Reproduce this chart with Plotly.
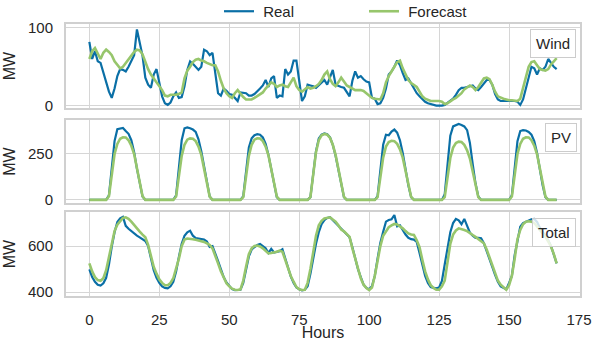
import plotly.graph_objects as go
from plotly.subplots import make_subplots

hours = list(range(168))

wind_real = [
    82, 60, 70, 57, 55, 42, 30, 18, 10, 22, 38, 47, 46, 44, 50, 58, 65, 98, 80, 64, 36, 27, 23, 40,
    47, 30, 12, 3, 1, 4, 12, 17, 10, 11, 25, 46, 57, 54, 50, 46, 50, 72, 70, 65, 68, 45, 16, 13,
    22, 19, 15, 14, 10, 6, 17, 16, 16, 13, 13, 15, 18, 22, 26, 33, 24, 35, 38, 10, 13, 12, 47, 40,
    44, 58, 58, 35, 6, 12, 27, 26, 25, 23, 26, 29, 33, 27, 36, 46, 27, 25, 24, 23, 18, 12, 32, 44,
    36, 38, 34, 31, 30, 10, 9, 2, 3, 10, 22, 40, 44, 50, 58, 52, 42, 33, 35, 28, 22, 16, 12, 8,
    5, 3, 2, 1, 0, 0, 0, 1, 4, 6, 9, 14, 20, 23, 23, 24, 25, 26, 22, 20, 24, 28, 33, 33,
    27, 15, 8, 6, 6, 6, 6, 6, 6, 5, 1, 8, 22, 35, 50, 48, 40, 48, 46, 50, 60, 55, 50, 47,
]
wind_fc = [
    60, 70, 74, 66, 60, 68, 72, 69, 65, 57, 52, 48, 50, 55, 60, 65, 69, 72, 71, 66, 56, 47, 40, 35,
    30, 26, 20, 13, 12, 14, 14, 14, 15, 17, 35, 45, 50, 56, 59, 60, 58, 57, 55, 53, 52, 52, 44, 32,
    22, 16, 12, 10, 16, 20, 15, 11, 8, 8, 8, 10, 12, 14, 17, 22, 26, 30, 28, 24, 26, 27, 25, 24,
    30, 36, 25, 20, 18, 21, 24, 22, 23, 25, 28, 33, 40, 44, 34, 28, 25, 30, 36, 31, 26, 24, 22, 20,
    20, 20, 19, 16, 13, 10, 9, 8, 8, 16, 30, 38, 45, 50, 56, 58, 48, 40, 33, 29, 27, 24, 18, 12,
    9, 7, 6, 6, 6, 6, 5, 2, 3, 6, 8, 10, 13, 16, 21, 24, 26, 24, 20, 24, 29, 35, 36, 34,
    27, 18, 12, 10, 9, 8, 7, 7, 6, 6, 9, 22, 38, 50, 56, 57, 52, 47, 46, 45, 47, 53, 57, 61,
]

pv_real = [
    0, 0, 0, 0, 0, 0, 0, 25, 190, 320, 385, 388, 392, 375, 360, 325, 260, 170, 85, 18, 0, 0, 0, 0,
    0, 0, 0, 0, 0, 0, 0, 25, 185, 325, 390, 395, 390, 383, 370, 330, 265, 175, 85, 18, 0, 0, 0, 0,
    0, 0, 0, 0, 0, 0, 0, 20, 150, 285, 335, 352, 358, 355, 340, 305, 245, 165, 80, 15, 0, 0, 0, 0,
    0, 0, 0, 0, 0, 0, 0, 15, 130, 265, 335, 355, 362, 358, 340, 300, 240, 160, 78, 15, 0, 0, 0, 0,
    0, 0, 0, 0, 0, 0, 0, 20, 160, 300, 355, 352, 372, 383, 366, 325, 255, 165, 80, 15, 0, 0, 0, 0,
    0, 0, 0, 0, 0, 0, 0, 30, 200, 350, 400, 405, 413, 408, 400, 380, 310, 195, 90, 18, 0, 0, 0, 0,
    0, 0, 0, 0, 0, 0, 0, 25, 180, 320, 375, 380, 378, 370, 355, 320, 255, 165, 80, 15, 0, 0, 0, 0,
]
pv_fc = [
    0, 0, 0, 0, 0, 0, 0, 20, 140, 250, 305, 333, 341, 340, 325, 295, 250, 170, 90, 20, 0, 0, 0, 0,
    0, 0, 0, 0, 0, 0, 0, 18, 130, 240, 300, 328, 335, 333, 320, 290, 245, 168, 88, 18, 0, 0, 0, 0,
    0, 0, 0, 0, 0, 0, 0, 15, 125, 240, 300, 328, 335, 334, 320, 290, 243, 165, 85, 18, 0, 0, 0, 0,
    0, 0, 0, 0, 0, 0, 0, 15, 130, 260, 325, 352, 359, 355, 338, 300, 245, 165, 82, 16, 0, 0, 0, 0,
    0, 0, 0, 0, 0, 0, 0, 15, 120, 230, 290, 315, 322, 320, 305, 275, 230, 155, 80, 16, 0, 0, 0, 0,
    0, 0, 0, 0, 0, 0, 0, 15, 118, 228, 285, 310, 317, 315, 300, 270, 225, 150, 78, 15, 0, 0, 0, 0,
    0, 0, 0, 0, 0, 0, 0, 18, 135, 250, 305, 333, 341, 340, 325, 295, 248, 168, 86, 18, 0, 0, 0, 0,
]

total_real = [
    499, 465, 445, 432, 428, 438, 462, 520, 597, 660, 705, 720, 727, 688, 675, 664, 655, 645, 638, 630, 622, 600, 540, 495,
    462, 440, 425, 418, 416, 425, 445, 490, 553, 610, 645, 660, 667, 645, 635, 632, 630, 628, 620, 596, 600, 570, 535, 500,
    465, 442, 425, 413, 409, 408, 410, 440, 500, 555, 585, 597, 605, 609, 600, 590, 570, 588, 572, 574, 578, 586, 545, 500,
    467, 440, 420, 412, 408, 410, 425, 480, 550, 610, 660, 695, 713, 722, 725, 712, 700, 686, 676, 662, 650, 638, 595, 545,
    500, 465, 432, 418, 412, 425, 470, 545, 615, 662, 706, 713, 716, 735, 686, 690, 668, 650, 636, 630, 628, 618, 570, 520,
    470, 440, 422, 418, 416, 420, 448, 520, 590, 660, 700, 718, 712, 695, 718, 690, 658, 645, 636, 636, 634, 612, 580, 540,
    510, 475, 445, 425, 418, 412, 440, 470, 560, 630, 684, 700, 706, 710, 716, 718, 705, 680, 662, 645, 625, 600, 560, 525,
]
total_fc = [
    525, 490, 465, 452, 449, 460, 495, 550, 612, 665, 693, 710, 722, 725, 718, 706, 690, 677, 663, 650, 638, 605, 553, 510,
    480, 455, 440, 430, 430, 440, 460, 500, 545, 600, 628, 633, 633, 630, 627, 624, 622, 618, 612, 605, 590, 560, 525, 490,
    460, 438, 425, 415, 410, 409, 412, 450, 510, 565, 590, 600, 602, 598, 590, 580, 568, 570, 572, 575, 580, 575, 540, 505,
    470, 445, 422, 412, 409, 410, 440, 500, 580, 645, 690, 710, 720, 724, 725, 715, 706, 690, 672, 664, 652, 640, 590, 545,
    495, 460, 432, 418, 409, 420, 470, 540, 600, 645, 665, 682, 690, 696, 694, 686, 677, 665, 655, 650, 648, 625, 595, 540,
    490, 455, 430, 418, 410, 410, 425, 450, 540, 610, 650, 668, 677, 675, 670, 665, 655, 648, 640, 630, 620, 612, 585, 550,
    520, 480, 450, 432, 420, 410, 430, 470, 545, 630, 670, 695, 706, 708, 706, 700, 685, 670, 658, 640, 620, 597, 565, 525,
]

panels = [
    ("Wind", wind_real, wind_fc, [-3, 105], [0, 100]),
    ("PV", pv_real, pv_fc, [-17, 435], [0, 250]),
    ("Total", total_real, total_fc, [383, 748], [400, 600]),
]
x_ticks = [0, 25, 50, 75, 100, 125, 150, 175]
series_names = ["Real", "Forecast"]

BLUE = "#0a6fa6"
GREEN = "#97c66c"
GRID = "#d6d6d6"
FRAME = "#d0d0d0"
TXT = "#262626"
FONT = "Liberation Sans, Arial, sans-serif"

fig = make_subplots(rows=3, cols=1, shared_xaxes=True)

for i, (name, real, fc, yr, yt) in enumerate(panels):
    r = i + 1
    fig.add_trace(go.Scatter(x=hours, y=real, mode="lines", name="\u00a0" + series_names[0],
                             line=dict(color=BLUE, width=2.2),
                             showlegend=(i == 0), legendgroup="real"), row=r, col=1)
    fig.add_trace(go.Scatter(x=hours, y=fc, mode="lines", name="\u00a0" + series_names[1],
                             line=dict(color=GREEN, width=2.6),
                             showlegend=(i == 0), legendgroup="fc"), row=r, col=1)

top, bottom = 24, 296
ph = bottom - top
pix = [(24, 108), (120, 203), (212, 296)]
for i, (t, b) in enumerate(pix):
    d0 = (bottom - b) / ph
    d1 = (bottom - t) / ph
    name, real, fc, yr, yt = panels[i]
    yk = "yaxis" if i == 0 else f"yaxis{i+1}"
    xk = "xaxis" if i == 0 else f"xaxis{i+1}"
    fig.layout[yk].update(domain=[d0, d1], range=yr, tickvals=yt,
                          showgrid=True, gridcolor=GRID, gridwidth=1,
                          showline=True, mirror=True, linecolor=FRAME, linewidth=2,
                          zeroline=False, ticks="", ticklabelstandoff=8,
                          automargin=False,
                          tickfont=dict(size=15, color=TXT, family=FONT),
                          title=dict(text="MW", font=dict(size=16, color=TXT, family=FONT), standoff=8))
    fig.layout[xk].update(range=[-8.35, 175.35], tickvals=x_ticks,
                          showgrid=True, gridcolor=GRID, gridwidth=1,
                          showline=True, mirror=True, linecolor=FRAME, linewidth=2,
                          zeroline=False, ticks="", showticklabels=(i == 2),
                          ticklabelstandoff=9, automargin=False,
                          tickfont=dict(size=15, color=TXT, family=FONT))

fig.layout["xaxis3"].update(title=dict(text="Hours", font=dict(size=16, color=TXT, family=FONT), standoff=0))

ann_pos = [(0.992, 0.94), (0.994, 0.964), (0.992, 0.93)]
for i, (name, *_rest) in enumerate(panels):
    xr = "x domain" if i == 0 else f"x{i+1} domain"
    yrf = "y domain" if i == 0 else f"y{i+1} domain"
    fig.add_annotation(text=name, xref=xr, yref=yrf, x=ann_pos[i][0], y=ann_pos[i][1],
                       xanchor="right", yanchor="top", showarrow=False,
                       font=dict(size=15, color=TXT, family=FONT),
                       bgcolor="rgba(255,255,255,0.8)", bordercolor="#cccccc",
                       borderwidth=1, borderpad=5)

fig.update_layout(
    width=592, height=341,
    margin=dict(l=66, r=12, t=24, b=45, autoexpand=False),
    paper_bgcolor="white", plot_bgcolor="white",
    font=dict(family=FONT, color=TXT),
    legend=dict(orientation="h", x=(219 - 66) / 514, xanchor="left", y=1.046, yanchor="middle",
                font=dict(size=15, color=TXT, family=FONT), bgcolor="rgba(0,0,0,0)",
                itemwidth=30, entrywidth=100, entrywidthmode="pixels"),
)

fig.write_html("out.html", config={"displayModeBar": False},
               post_script="document.body.style.margin='0';document.body.style.padding='0';")
